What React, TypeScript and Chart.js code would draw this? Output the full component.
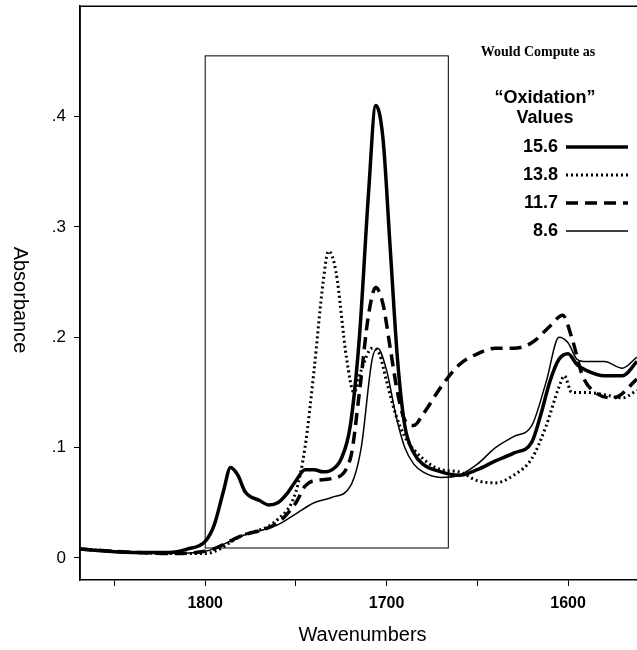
import React, { useEffect, useRef } from "react";
import { Chart, registerables } from "chart.js";
Chart.register(...registerables);

const wn156 = [1869,1840,1820,1810,1800,1795,1790,1786,1782,1778,1770,1765,1760,1755,1750,1745,1740,1735,1730,1725,1720,1715,1710,1706,1702,1698,1694,1690,1685,1680,1670,1660,1650,1640,1630,1620,1615,1610,1605,1600,1595,1590,1580,1570,1562];
const ab156 = [0.008,0.005,0.005,0.008,0.015,0.03,0.06,0.082,0.075,0.06,0.052,0.048,0.05,0.058,0.07,0.08,0.08,0.078,0.08,0.09,0.12,0.2,0.33,0.41,0.38,0.28,0.18,0.12,0.095,0.085,0.078,0.075,0.08,0.088,0.095,0.105,0.13,0.16,0.18,0.185,0.175,0.17,0.165,0.165,0.178];
const wn138 = [1869,1840,1820,1800,1780,1760,1750,1745,1740,1735,1732,1728,1722,1718,1714,1708,1704,1700,1695,1690,1680,1670,1660,1650,1640,1630,1620,1612,1605,1602,1598,1590,1580,1570,1562];
const ab138 = [0.008,0.005,0.004,0.004,0.02,0.035,0.06,0.1,0.17,0.25,0.278,0.26,0.18,0.15,0.17,0.19,0.185,0.16,0.13,0.11,0.09,0.08,0.078,0.07,0.068,0.075,0.09,0.12,0.155,0.165,0.15,0.15,0.148,0.145,0.152];
const wn117 = [1869,1840,1820,1800,1780,1760,1750,1745,1740,1730,1720,1715,1710,1706,1702,1698,1694,1690,1685,1680,1670,1660,1650,1640,1630,1620,1610,1603,1598,1592,1585,1575,1562];
const ab117 = [0.008,0.005,0.004,0.006,0.02,0.032,0.05,0.065,0.07,0.072,0.09,0.15,0.22,0.245,0.23,0.19,0.15,0.125,0.12,0.13,0.155,0.175,0.185,0.19,0.19,0.195,0.21,0.22,0.2,0.165,0.15,0.145,0.162];
const wn86 = [1869,1840,1820,1800,1780,1760,1750,1740,1730,1720,1714,1708,1705,1700,1695,1690,1685,1680,1670,1660,1650,1640,1630,1620,1612,1605,1600,1595,1590,1580,1570,1562];
const ab86 = [0.008,0.005,0.004,0.006,0.02,0.03,0.04,0.05,0.055,0.065,0.1,0.18,0.19,0.17,0.13,0.1,0.085,0.078,0.073,0.075,0.085,0.1,0.11,0.12,0.16,0.2,0.195,0.18,0.178,0.178,0.172,0.182];
const legendLabels = ["15.6", "13.8", "11.7", "8.6"];
const yTickLabels: Record<string, string> = { "0": "0", "0.1": ".1", "0.2": ".2", "0.3": ".3", "0.4": ".4" };
const boxX = [1800, 1666];
const boxY = [0.009, 0.455];

const styles = [
  { w: 3.5, dash: [] as number[] },
  { w: 3, dash: [2, 3] },
  { w: 3.5, dash: [12, 7] },
  { w: 1.5, dash: [] as number[] },
];

const pts = (x: number[], y: number[]) => x.map((v, i) => ({ x: v, y: y[i] }));
const OFF = 12;

export default function App() {
  const ref = useRef<HTMLCanvasElement>(null);
  useEffect(() => {
    const deco = {
      id: "deco",
      afterDraw(c: any) {
        const ctx = c.ctx, a = c.chartArea, xs = c.scales.x, ys = c.scales.y;
        ctx.save();
        ctx.strokeStyle = "#000";
        ctx.lineWidth = 1.5;
        ctx.beginPath();
        ctx.moveTo(a.left, a.bottom); ctx.lineTo(a.left, a.top); ctx.lineTo(a.right, a.top);
        ctx.stroke();
        ctx.lineWidth = 1;
        const x1 = xs.getPixelForValue(boxX[0]), x2 = xs.getPixelForValue(boxX[1]);
        const y1 = ys.getPixelForValue(boxY[1]), y2 = ys.getPixelForValue(boxY[0]);
        ctx.strokeRect(x1, y1, x2 - x1, y2 - y1);
        ctx.fillStyle = "#000";
        ctx.textAlign = "center";
        ctx.textBaseline = "middle";
        ctx.font = "20px 'Liberation Sans', Arial";
        ctx.fillText("Wavenumbers", (a.left + 637) / 2 + 4, 635 + OFF);
        ctx.save();
        ctx.translate(20, 300 + OFF);
        ctx.rotate(Math.PI / 2);
        ctx.fillText("Absorbance", 0, 0);
        ctx.restore();
        ctx.font = "bold 14px 'Liberation Serif', serif";
        ctx.fillText("Would Compute as", 538, 52 + OFF);
        ctx.font = "bold 18px 'Liberation Sans', Arial";
        ctx.fillText("\u201COxidation\u201D", 545, 98 + OFF);
        ctx.fillText("Values", 545, 118 + OFF);
        ctx.textAlign = "right";
        legendLabels.forEach((l, i) => {
          const y = 147 + i * 28 + OFF;
          ctx.fillText(l, 558, y);
          ctx.lineWidth = styles[i].w;
          ctx.setLineDash(styles[i].dash);
          ctx.beginPath(); ctx.moveTo(566, y); ctx.lineTo(628, y); ctx.stroke();
        });
        ctx.restore();
      },
    };
    const series = [pts(wn156, ab156), pts(wn138, ab138), pts(wn117, ab117), pts(wn86, ab86)];
    const chart = new Chart(ref.current!, {
      type: "line",
      data: {
        datasets: series.map((d, i) => ({
          data: d, borderColor: "#000", borderWidth: styles[i].w, borderDash: styles[i].dash,
          pointRadius: 0, cubicInterpolationMode: "monotone", fill: false,
        })),
      },
      options: {
        animation: false, responsive: false,
        layout: { padding: 0 },
        plugins: { legend: { display: false }, tooltip: { enabled: false } },
        scales: {
          x: {
            type: "linear", reverse: true, min: 1562, max: 1869,
            grid: { display: true, drawOnChartArea: false, drawTicks: true, tickLength: 6, color: "#000" },
            border: { display: true, color: "#000", width: 1.5 },
            ticks: {
              stepSize: 50, color: "#000", font: { size: 16, weight: "bold", family: "'Liberation Sans', Arial" }, padding: 8,
              callback: (v: any) => (v % 100 === 0 ? String(v) : ""),
            },
            afterBuildTicks: (s: any) => { s.ticks = [1850,1800,1750,1700,1650,1600].map(v => ({ value: v })); },
            afterFit: (s: any) => { s.height = 70; },
          },
          y: {
            min: -0.02, max: 0.5,
            grid: { display: true, drawOnChartArea: false, drawTicks: true, tickLength: 6, color: "#000" },
            border: { display: true, color: "#000", width: 1.5 },
            ticks: {
              color: "#000", font: { size: 17, family: "'Liberation Sans', Arial" }, padding: 8,
              callback: (v: any) => yTickLabels[String(Math.round(v * 10) / 10)] ?? "",
            },
            afterBuildTicks: (s: any) => { s.ticks = [0, 0.1, 0.2, 0.3, 0.4].map(v => ({ value: v })); },
            afterFit: (s: any) => { s.width = 80; },
          },
        },
      },
      plugins: [deco],
    } as any);
    return () => chart.destroy();
  }, []);
  return (
    <div style={{ position: "fixed", left: 0, top: -OFF, width: 637, height: 650 + OFF, background: "#fff" }}>
      <canvas ref={ref} width={637} height={650 + OFF} style={{ width: 637, height: 650 + OFF }} />
    </div>
  );
}
